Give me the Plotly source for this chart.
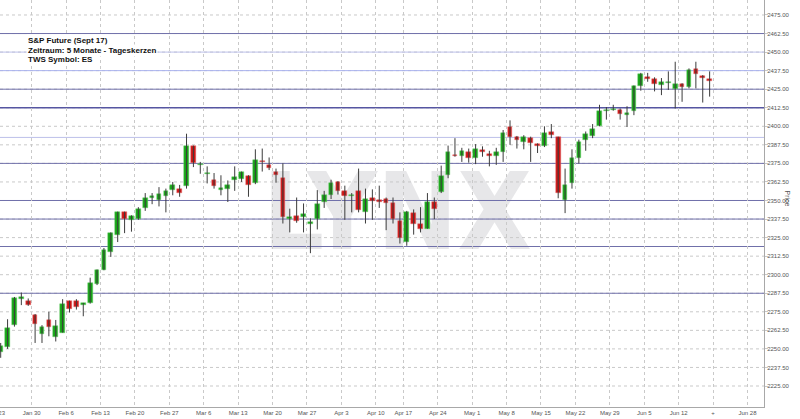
import plotly.graph_objects as go

# ---------------- data ----------------
opens = [2248, 2251, 2266, 2284, 2282.5, 2273, 2260, 2269.5, 2258, 2261,
         2282, 2282, 2280, 2281, 2293.5, 2303.5, 2315.5, 2327, 2342, 2337,
         2337.5, 2345, 2352, 2350.5, 2353, 2357, 2358, 2359.5, 2386.5, 2374,
         2368, 2364, 2357.5, 2358, 2363.5, 2364.5, 2366.5, 2361.5, 2376.5, 2374,
         2369, 2365, 2337.5, 2339.5, 2339, 2334.5, 2337.5, 2349, 2353.5, 2362.5,
         2356.5, 2353, 2356.5, 2342, 2352, 2350, 2351, 2348.5, 2336, 2322,
         2341.5, 2334, 2331, 2349, 2355.5, 2367, 2380.5, 2380, 2382.5, 2378.5,
         2383.5, 2381, 2380, 2383, 2399.5, 2393, 2389.5, 2392, 2388, 2386.5,
         2396, 2392.5, 2350.5, 2362, 2378.5, 2390.5, 2393.5, 2400.5, 2410.5, 2411,
         2411, 2408, 2410.5, 2427, 2433.5, 2432, 2427.5, 2429.5, 2425, 2428.5,
         2426.5, 2438.5, 2434, 2431.5]
highs = [2254, 2270, 2285, 2288, 2284, 2273.5, 2266, 2275, 2269.5, 2283.5,
         2282.5, 2283.5, 2281, 2298, 2303.5, 2318, 2328.5, 2342.5, 2342.5, 2340,
         2345.5, 2355, 2355, 2359, 2358, 2362.5, 2360.5, 2395, 2387, 2376,
         2373, 2368.5, 2367, 2363.5, 2373, 2369.5, 2367, 2384.5, 2385, 2379,
         2371.5, 2375, 2344.5, 2352, 2348, 2338, 2357, 2356.5, 2364, 2363,
         2360, 2355, 2371.5, 2358, 2357.5, 2360, 2352, 2352, 2342, 2343,
         2344, 2345.5, 2355, 2352, 2373.5, 2387, 2392, 2385.5, 2385, 2388,
         2386.5, 2383.5, 2385.5, 2397.5, 2404, 2393.5, 2394, 2393, 2388.5, 2400,
         2401.5, 2393, 2371.5, 2384.5, 2391, 2396.5, 2401.5, 2414.5, 2413, 2414.5,
         2412, 2413.5, 2427.5, 2436, 2436, 2433, 2432.5, 2437, 2443.5, 2429,
         2439, 2443.5, 2434.5, 2437]
lows = [2244, 2250, 2265, 2279.5, 2279, 2254, 2254, 2258.5, 2255, 2261,
        2274.5, 2276.5, 2272, 2280.5, 2293, 2303, 2312, 2322, 2328, 2329,
        2337, 2343, 2347.5, 2346, 2342, 2353.5, 2352.5, 2358, 2372.5, 2368,
        2361.5, 2358, 2353.5, 2349, 2356.5, 2362.5, 2352.5, 2361, 2369.5, 2370.5,
        2362, 2334.5, 2328.5, 2335, 2328.5, 2314.5, 2330.5, 2345, 2351, 2354,
        2337, 2342, 2342, 2334.5, 2337, 2345, 2330, 2334.5, 2321, 2319.5,
        2327, 2328.5, 2331, 2337.5, 2355, 2365, 2379.5, 2376, 2375.5, 2374.5,
        2379.5, 2373, 2374, 2376, 2387.5, 2385, 2384.5, 2376, 2382, 2386,
        2392, 2351.5, 2341.5, 2358, 2375, 2383.5, 2392, 2400, 2404.5, 2410.5,
        2404.5, 2399.5, 2407.5, 2424, 2430, 2423.5, 2421, 2424.5, 2412, 2416.5,
        2425.5, 2425.5, 2416, 2420]
closes = [2252, 2264, 2284, 2284.5, 2279.5, 2266.5, 2264.5, 2265, 2265.5, 2280.5,
          2277, 2278.5, 2280.5, 2294.5, 2303, 2316.5, 2328, 2342, 2337.5, 2339.5,
          2344.5, 2351.5, 2352.5, 2354.5, 2356.5, 2360.5, 2355, 2386.5, 2375, 2374.5,
          2368.5, 2360, 2358, 2360.5, 2365.5, 2369, 2360.5, 2377, 2376, 2372,
          2367, 2339, 2339, 2336.5, 2341, 2335, 2347.5, 2353.5, 2361.5, 2356.5,
          2353, 2353.5, 2343.5, 2351, 2349.5, 2349.5, 2348, 2337.5, 2324.5, 2342,
          2334.5, 2331, 2349, 2344.5, 2366.5, 2382.5, 2380, 2383.5, 2378.5, 2384.5,
          2383, 2380.5, 2383, 2395.5, 2392.5, 2391, 2393, 2388.5, 2386.5, 2395.5,
          2394, 2355, 2360.5, 2378.5, 2389.5, 2395, 2398.5, 2410.5, 2411, 2411.5,
          2408, 2408.5, 2427, 2435, 2432, 2428.5, 2430, 2429.6, 2428.5, 2426.5,
          2438, 2435, 2432.5, 2431]

# Monday bar positions and their labels
tick_bars = [5, 10, 15, 20, 25, 30, 35, 40, 45, 50, 55, 59, 64, 69, 74,
             79, 84, 89, 94, 99, 104, 109]
tick_labels = ["Jan 30", "Feb 6", "Feb 13", "Feb 20", "Feb 27", "Mar 6",
               "Mar 13", "Mar 20", "Mar 27", "Apr 3", "Apr 10", "Apr 17",
               "Apr 24", "May 1", "May 8", "May 15", "May 22", "May 29",
               "Jun 5", "Jun 12", "+", "Jun 28"]
first_label = "Jan 23"

y_ticks = [2225.0, 2237.5, 2250.0, 2262.5, 2275.0, 2287.5, 2300.0, 2312.5,
           2325.0, 2337.5, 2350.0, 2362.5, 2375.0, 2387.5, 2400.0, 2412.5,
           2425.0, 2437.5, 2450.0, 2462.5, 2475.0]

# horizontal support / resistance lines
levels = [2462.5, 2450.0, 2437.5, 2425.0, 2412.5, 2392.5, 2375.0, 2350.0,
          2337.5, 2319.0, 2287.5]
level_kind = ["dark", "light", "blue", "dark", "strong", "light", "dark",
              "dark", "dark", "dark", "dark"]

title_lines = ["S&amp;P Future (Sept 17)", "Zeitraum: 5 Monate - Tageskerzen",
               "TWS Symbol: ES"]

# ---------------- styles ----------------
UP = "#17a317"
DOWN = "#cc1515"
UP_EDGE = "#6fcf6f"
DOWN_EDGE = "#e07070"
WICK = "#3c3c3c"
GRID = "#c9c9c9"
FONT = "Liberation Sans, Arial, sans-serif"
level_style = {
    "dark": dict(color="#7070aa", width=1),
    "strong": dict(color="#5656a2", width=1.5),
    "light": dict(color="#bcc0ea", width=1),
    "blue": dict(color="#a9b2ee", width=1),
}

n = len(opens)
xs = list(range(n))
up = [c >= o for o, c in zip(opens, closes)]
min_body = 0.9
body_h = [max(abs(c - o), min_body) for o, c in zip(opens, closes)]
body_base = [(o + c) / 2 - h / 2 for o, c, h in zip(opens, closes, body_h)]

wx, wy = [], []
for i in xs:
    wx += [i, i, None]
    wy += [lows[i], highs[i], None]

fig = go.Figure()
fig.add_trace(go.Scatter(x=wx, y=wy, mode="lines",
                         line=dict(color=WICK, width=1), hoverinfo="skip"))
fig.add_trace(go.Bar(x=xs, y=body_h, base=body_base, width=0.68,
                     marker=dict(color=[UP if u else DOWN for u in up],
                                 line=dict(color=[UP_EDGE if u else DOWN_EDGE for u in up],
                                           width=0.5))))

shapes = [dict(type="rect", xref="paper", yref="paper",
               x0=0.36, x1=0.68, y0=0.31, y1=0.69, layer="below",
               line=dict(width=0), fillcolor="rgba(0,0,0,0)",
               label=dict(text="LYNX", textposition="middle center",
                          font=dict(family="Liberation Sans Narrow, DejaVu Sans Condensed, Arial",
                                    size=107, color="#e7e7e9", weight="bold")))]
# dotted horizontal grid
for t in y_ticks:
    shapes.append(dict(type="line", xref="paper", yref="y", x0=0, x1=1,
                       y0=t, y1=t, layer="below",
                       line=dict(color=GRID, width=1, dash="dot")))
# support / resistance lines on top of the grid
for lv, k in zip(levels, level_kind):
    shapes.append(dict(type="line", xref="paper", yref="y", x0=0, x1=1,
                       y0=lv, y1=lv, layer="below", line=level_style[k]))

annotations = []
for k, t in enumerate(title_lines):
    annotations.append(dict(
        text="<b>%s</b>" % t, xref="paper", yref="paper",
        x=26 / 764, y=1 - (40.7 + 9.3 * k) / 407,
        xanchor="left", yanchor="middle", align="left", showarrow=False,
        bgcolor="white", borderpad=1,
        font=dict(family=FONT, size=8, color="#111")))
annotations += [
    dict(text="Price", xref="paper", yref="paper", x=793 / 764, y=1 - 199 / 407,
         textangle=90, showarrow=False,
         font=dict(family=FONT, size=7, color="#555")),
    dict(text=first_label, xref="paper", yref="paper", x=-4 / 764, y=0,
         yanchor="top", xanchor="center", yshift=-1, showarrow=False,
         font=dict(family=FONT, size=6, color="#555")),
]

fig.update_layout(
    width=800, height=419,
    margin=dict(l=0, r=36, t=0, b=12),
    paper_bgcolor="white", plot_bgcolor="rgba(0,0,0,0)",
    showlegend=False, bargap=0,
    font=dict(family=FONT, size=7, color="#555"),
    shapes=shapes, annotations=annotations,
)
fig.update_xaxes(range=[-0.1, 110.9], tickmode="array",
                 tickvals=[b - 0.5 for b in tick_bars], ticktext=tick_labels,
                 showgrid=True, gridcolor=GRID, griddash="dot", gridwidth=1,
                 showline=True, linecolor="#a8a8a8", ticks="", zeroline=False,
                 tickfont=dict(size=6, color="#555"), automargin=False)
fig.update_yaxes(side="right", range=[2210.85, 2485.1], tickmode="array",
                 tickvals=y_ticks, tickformat=".2f",
                 showgrid=False,
                 showline=True, linecolor="#a8a8a8", ticks="outside", ticklen=3,
                 tickcolor=GRID, zeroline=False, ticklabelstandoff=-2,
                 tickfont=dict(size=6, color="#555"), automargin=False)

fig.write_html("out.html", config={"displayModeBar": False},
               post_script="document.body.style.margin='0';document.body.style.overflow='hidden';")
